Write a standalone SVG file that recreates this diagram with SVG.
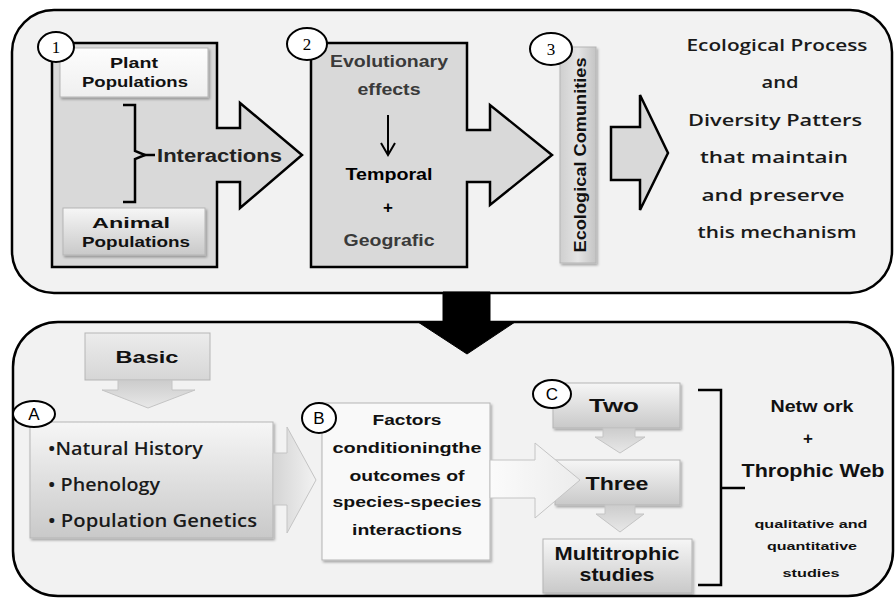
<svg xmlns="http://www.w3.org/2000/svg" width="895" height="598" viewBox="0 0 895 598">
<defs>
<linearGradient id="gBox" x1="0" y1="0" x2="0" y2="1"><stop offset="0" stop-color="#f6f6f6"/><stop offset="1" stop-color="#c9c9c9"/></linearGradient>
<linearGradient id="gBasic" x1="0" y1="0" x2="0" y2="1"><stop offset="0" stop-color="#ececec"/><stop offset="1" stop-color="#d6d6d6"/></linearGradient>
<linearGradient id="gPlant" x1="0" y1="0" x2="0" y2="1"><stop offset="0" stop-color="#fdfdfd"/><stop offset="1" stop-color="#efefef"/></linearGradient>
<linearGradient id="gEco" x1="0" y1="0" x2="1" y2="0"><stop offset="0" stop-color="#cfcfcf"/><stop offset="0.5" stop-color="#e4e4e4"/><stop offset="1" stop-color="#c4c4c4"/></linearGradient>
<linearGradient id="gArrV" x1="0" y1="0" x2="0" y2="1"><stop offset="0" stop-color="#cccccc"/><stop offset="1" stop-color="#e8e8e8"/></linearGradient>
<linearGradient id="gArrH" x1="0" y1="0" x2="1" y2="0"><stop offset="0" stop-color="#d4d4d4"/><stop offset="1" stop-color="#f2f2f2"/></linearGradient>
<linearGradient id="gArrW" x1="0" y1="0" x2="1" y2="0"><stop offset="0" stop-color="#fbfbfb"/><stop offset="1" stop-color="#ececec"/></linearGradient>
<filter id="sh" x="-10%" y="-10%" width="130%" height="130%"><feDropShadow dx="1.5" dy="2" stdDeviation="1.2" flood-color="#000" flood-opacity="0.3"/></filter>
</defs>
<style>
.panel{fill:#f2f2f2;stroke:#000;stroke-width:2.5}
.dark{fill:#d9d9d9;stroke:#000;stroke-width:2.5;stroke-linejoin:miter}
.soft{stroke:#b5b5b5;stroke-width:1}
.circ{fill:#fff;stroke:#000;stroke-width:2}
.num{font-family:"Liberation Serif",serif;font-size:17px;fill:#000;text-anchor:middle}
.let{font-family:"Liberation Sans",sans-serif;font-size:17px;fill:#000;text-anchor:middle}
.b{font-family:"Liberation Sans",Arial,sans-serif;font-weight:bold;fill:#111;text-anchor:middle}
.c{font-family:"Open Sans","Liberation Sans",sans-serif;font-weight:600;fill:#1a1a1a;text-anchor:middle}
.cl{font-family:"Open Sans","Liberation Sans",sans-serif;font-weight:600;fill:#1a1a1a}
.brk{fill:none;stroke:#000;stroke-width:2.5}
.arr{stroke:#c4c4c4;stroke-width:1}
</style>

<g id="panels">
<rect class="panel" x="12" y="10" width="880" height="283" rx="42" ry="42"/>
<rect class="panel" x="13" y="322" width="880" height="274" rx="45" ry="45"/>
</g>

<g id="node1">
<path class="dark" d="M52,43 H217 V128 H240 V103 L302,155 L240,208 V182 H217 V267 H52 Z"/>
<rect x="60" y="48" width="148" height="49" fill="url(#gPlant)" class="soft" filter="url(#sh)"/>
<text class="b" x="134" y="68" font-size="15" textLength="48" lengthAdjust="spacingAndGlyphs">Plant</text>
<text class="b" x="135" y="87" font-size="15" textLength="106" lengthAdjust="spacingAndGlyphs">Populations</text>
<rect x="63" y="208" width="142" height="47" fill="url(#gBox)" class="soft" filter="url(#sh)"/>
<text class="b" x="131" y="228" font-size="15" textLength="78" lengthAdjust="spacingAndGlyphs">Animal</text>
<text class="b" x="136" y="247" font-size="15" textLength="108" lengthAdjust="spacingAndGlyphs">Populations</text>
<path class="brk" d="M123,105 H135 V151 L145,155 L135,159 V202 H123"/>
<line x1="143" y1="155" x2="155" y2="155" stroke="#000" stroke-width="2.5"/>
<text x="157" y="162" font-family="Liberation Sans,sans-serif" font-size="18" font-weight="bold" fill="#222" textLength="125" lengthAdjust="spacingAndGlyphs">Interactions</text>
<ellipse class="circ" cx="56" cy="47" rx="18" ry="15"/>
<text class="num" x="56" y="53">1</text>
</g>

<g id="node2">
<path class="dark" d="M311,43 H467 V130 H490 V105 L552,155 L490,205 V182 H467 V267 H311 Z"/>
<text class="b" x="389" y="67" font-size="16" style="fill:#3a3a3a" textLength="118" lengthAdjust="spacingAndGlyphs">Evolutionary</text>
<text class="b" x="389" y="95" font-size="16" style="fill:#3a3a3a" textLength="63" lengthAdjust="spacingAndGlyphs">effects</text>
<path d="M388,115 V154 M381,143 L388,155 L395,143" fill="none" stroke="#000" stroke-width="2"/>
<text class="b" x="389" y="180" font-size="17" style="fill:#000" textLength="87" lengthAdjust="spacingAndGlyphs">Temporal</text>
<text class="b" x="388" y="213" font-size="17" style="fill:#000">+</text>
<text class="b" x="389" y="246" font-size="17" style="fill:#3a3a3a" textLength="91" lengthAdjust="spacingAndGlyphs">Geografic</text>
<ellipse class="circ" cx="307" cy="44" rx="20" ry="16"/>
<text class="num" x="307" y="50">2</text>
</g>

<g id="node3">
<rect x="560" y="47" width="36" height="216" fill="url(#gEco)" class="soft" filter="url(#sh)"/>
<text class="b" transform="translate(586,155) rotate(-90)" font-size="17" style="fill:#111" textLength="195" lengthAdjust="spacingAndGlyphs">Ecological Comunities</text>
<ellipse class="circ" cx="551" cy="49" rx="21" ry="16"/>
<text class="num" x="551" y="55">3</text>
<path class="dark" d="M611,127 H640 V95 L668,153 L640,210 V180 H611 Z"/>
</g>

<g id="outcome">
<text class="c" x="777" y="51" font-size="16" textLength="181" lengthAdjust="spacingAndGlyphs">Ecological Process</text>
<text class="c" x="780" y="88" font-size="16" textLength="37" lengthAdjust="spacingAndGlyphs">and</text>
<text class="c" x="775" y="126" font-size="16" textLength="174" lengthAdjust="spacingAndGlyphs">Diversity Patters</text>
<text class="c" x="774" y="163" font-size="16" textLength="148" lengthAdjust="spacingAndGlyphs">that maintain</text>
<text class="c" x="773" y="201" font-size="16" textLength="143" lengthAdjust="spacingAndGlyphs">and preserve</text>
<text class="c" x="777" y="238" font-size="16" textLength="159" lengthAdjust="spacingAndGlyphs">this mechanism</text>
</g>

<g id="basic">
<rect x="85" y="333" width="125" height="47" fill="url(#gBasic)" class="soft"/>
<text class="b" x="147" y="363" font-size="17" textLength="63" lengthAdjust="spacingAndGlyphs">Basic</text>
</g>

<g id="nodeA">
<rect x="30" y="422" width="243" height="116" fill="url(#gBox)" class="soft" filter="url(#sh)"/>
<text class="cl" x="48" y="455" font-size="18" textLength="155" lengthAdjust="spacingAndGlyphs">•Natural History</text>
<text class="cl" x="48" y="491" font-size="18" textLength="112" lengthAdjust="spacingAndGlyphs">• Phenology</text>
<text class="cl" x="48" y="527" font-size="18" textLength="209" lengthAdjust="spacingAndGlyphs">• Population Genetics</text>
<ellipse class="circ" cx="34" cy="414" rx="21" ry="13"/>
<text class="let" x="34" y="420">A</text>
</g>

<g id="nodeB">
<rect x="322" y="403" width="168" height="157" fill="#f9f9f9" class="soft" filter="url(#sh)"/>
<text class="b" x="407" y="425" font-size="15" textLength="69" lengthAdjust="spacingAndGlyphs">Factors</text>
<text class="b" x="407" y="453" font-size="15" textLength="149" lengthAdjust="spacingAndGlyphs">conditioningthe</text>
<text class="b" x="407" y="481" font-size="15" textLength="115" lengthAdjust="spacingAndGlyphs">outcomes of</text>
<text class="b" x="407" y="507" font-size="15" textLength="149" lengthAdjust="spacingAndGlyphs">species-species</text>
<text class="b" x="407" y="535" font-size="15" textLength="110" lengthAdjust="spacingAndGlyphs">interactions</text>
<ellipse class="circ" cx="319" cy="418" rx="17" ry="15"/>
<text class="let" x="319" y="424">B</text>
</g>

<g id="nodeTwo">
<rect x="553" y="383" width="127" height="45" fill="url(#gBox)" class="soft" filter="url(#sh)"/>
<text class="b" x="614" y="412" font-size="19" textLength="50" lengthAdjust="spacingAndGlyphs">Two</text>
<ellipse class="circ" cx="552" cy="394" rx="19" ry="14"/>
<text class="let" x="552" y="400">C</text>
</g>

<g id="nodeThree">
<rect x="555" y="460" width="125" height="45" fill="url(#gBox)" class="soft" filter="url(#sh)"/>
</g>

<g id="nodeMulti">
<rect x="543" y="539" width="149" height="54" fill="url(#gBox)" class="soft" filter="url(#sh)"/>
<text class="b" x="617" y="560" font-size="18" textLength="125" lengthAdjust="spacingAndGlyphs">Multitrophic</text>
<text class="b" x="617" y="581" font-size="18" textLength="75" lengthAdjust="spacingAndGlyphs">studies</text>
</g>

<g id="connectors">
<polygon points="443,292 490,292 490,322 515,322 467,354 418,322 443,322" fill="#000" stroke="#000" stroke-width="1"/>
<polygon class="arr" points="118,380 172,380 172,390 195,390 148,408 102,390 118,390" fill="url(#gArrV)"/>
<polygon class="arr" points="273,453 287,453 287,427 316,480 287,533 287,505 273,505" fill="url(#gArrH)"/>
<polygon class="arr" points="490,460 535,460 535,443 580,480 535,518 535,498 490,498" fill="url(#gArrW)"/>
<polygon class="arr" points="603,428 635,428 635,437 645,437 620,453 595,437 603,437" fill="url(#gArrV)"/>
<polygon class="arr" points="605,505 635,505 635,514 644,514 620,532 596,514 605,514" fill="url(#gArrV)"/>
<path class="brk" d="M698,390 H721 V488 H745 M721,488 V585 H698"/>
</g>

<g id="threeLabel">
<text class="b" x="617" y="490" font-size="19" textLength="63" lengthAdjust="spacingAndGlyphs">Three</text>
</g>

<g id="network">
<text class="b" x="812" y="412" font-size="17" textLength="83" lengthAdjust="spacingAndGlyphs">Netw ork</text>
<text class="b" x="808" y="444" font-size="17">+</text>
<text class="b" x="813" y="477" font-size="18" textLength="143" lengthAdjust="spacingAndGlyphs">Throphic Web</text>
<text class="b" x="811" y="528" font-size="11.5" textLength="113" lengthAdjust="spacingAndGlyphs">qualitative and</text>
<text class="b" x="812" y="550" font-size="11.5" textLength="90" lengthAdjust="spacingAndGlyphs">quantitative</text>
<text class="b" x="811" y="577" font-size="11.5" textLength="57" lengthAdjust="spacingAndGlyphs">studies</text>
</g>
</svg>
